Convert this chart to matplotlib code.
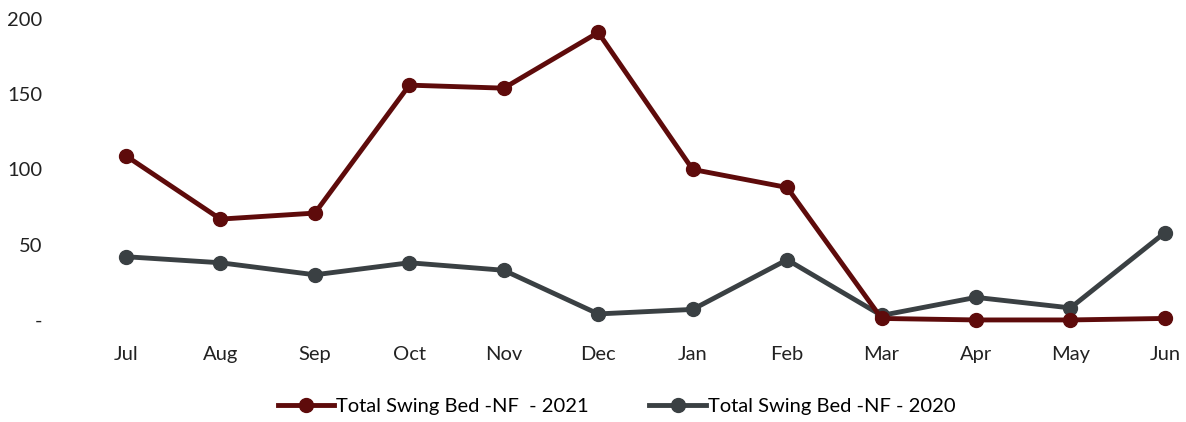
import matplotlib
matplotlib.use("Agg")
import matplotlib.pyplot as plt
from matplotlib.ticker import FuncFormatter

plt.rcParams['font.family'] = ['Lato', 'DejaVu Sans']

months = ['Jul', 'Aug', 'Sep', 'Oct', 'Nov', 'Dec', 'Jan', 'Feb', 'Mar', 'Apr', 'May', 'Jun']
swing_2021 = [109, 67, 71, 156, 154, 191, 100, 88, 1, 0, 0, 1]
swing_2020 = [42, 38, 30, 38, 33, 4, 7, 40, 3, 15, 8, 58]

red = '#5e0b0b'
gray = '#3a4043'

fig = plt.figure(figsize=(11.86, 4.22), dpi=100)
ax = fig.add_axes([70 / 1186, 0.224, 1110 / 1186, 0.749])

x = list(range(len(months)))
ax.plot(x, swing_2021, color=red, lw=3.5, marker='o', ms=10,
        label='Total Swing Bed -NF  - 2021', clip_on=False, zorder=3)
ax.plot(x, swing_2020, color=gray, lw=3.5, marker='o', ms=10,
        label='Total Swing Bed -NF - 2020', clip_on=False, zorder=2)

ax.set_xlim(-0.593, 11.16)
ax.set_ylim(-5, 205)
ax.set_yticks([0, 50, 100, 150, 200])
ax.yaxis.set_major_formatter(FuncFormatter(lambda v, p: '-' if v == 0 else f'{int(v)}'))
ax.set_xticks(x)
ax.set_xticklabels(months)

for s in ax.spines.values():
    s.set_visible(False)
ax.tick_params(length=0, labelsize=14.5, colors='#222222')
ax.tick_params(axis='x', pad=13)
ax.tick_params(axis='y', pad=20)

fig.legend(loc='lower center', bbox_to_anchor=(0.52, -0.026), ncol=2, frameon=False,
           fontsize=14.5, handlelength=2.8, columnspacing=3.0, handletextpad=0.1)

fig.savefig('out.png', dpi=100, facecolor='white')
